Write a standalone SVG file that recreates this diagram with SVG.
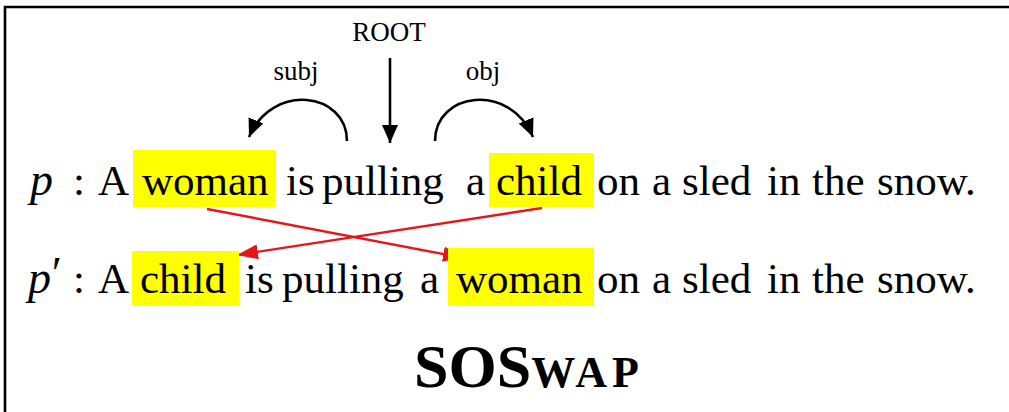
<svg xmlns="http://www.w3.org/2000/svg" width="1009" height="412" viewBox="0 0 1009 412">
<style>
.w{font-family:"Liberation Serif","Times New Roman",serif;font-size:43px;fill:#000}
.m{font-family:"Liberation Serif","Times New Roman",serif;font-style:italic;font-size:46px;fill:#000}
.lab{font-family:"Liberation Serif","Times New Roman",serif;font-size:27px;fill:#000}
.hl{fill:#ffff00}
.dep{fill:none;stroke:#000;stroke-width:2.6}
.swp{fill:none;stroke:#e8141b;stroke-width:2.4}
.ttl{font-family:"Liberation Serif","Times New Roman",serif;font-weight:bold;fill:#000}
</style>
<defs>
<marker id="ak" markerUnits="userSpaceOnUse" markerWidth="22" markerHeight="22" refX="18" refY="8" orient="auto"><path d="M0,0 L18,8 L0,16 Z" fill="#000"/></marker>
<marker id="ar" markerUnits="userSpaceOnUse" markerWidth="24" markerHeight="24" refX="21" refY="7.5" orient="auto"><path d="M0,0 L21,7.5 L0,15 Z" fill="#e8141b"/></marker>
</defs>
<rect width="1009" height="412" fill="#fff"/>
<path d="M5,412 V7 H1009" fill="none" stroke="#000" stroke-width="2.6"/>
<g id="labels">
<text class="lab" x="389" y="41" text-anchor="middle">ROOT</text>
<text class="lab" x="296" y="80" text-anchor="middle" font-size="28">subj</text>
<text class="lab" x="483" y="80" text-anchor="middle" font-size="28">obj</text>
</g>
<g id="connectors">
<path class="dep" d="M347,141 C347,92 272,82 249,137" marker-end="url(#ak)"/>
<path class="dep" d="M390,58 V143" marker-end="url(#ak)"/>
<path class="dep" d="M435,141 C435,92 510,82 533,137" marker-end="url(#ak)"/>
<path class="swp" d="M207,209 L464,258" marker-end="url(#ar)"/>
<path class="swp" d="M542,208 L237,255" marker-end="url(#ar)"/>
</g>
<g id="sentence-p">
<rect class="hl" x="133" y="150" width="143" height="57"/>
<rect class="hl" x="489" y="153" width="105" height="54"/>
<text class="m" x="30" y="195">p</text>
<text class="w" x="73" y="195">:</text>
<text class="w" x="98" y="195">A</text>
<text class="w" x="142" y="195">woman</text>
<text class="w" x="286" y="195">is</text>
<text class="w" x="322" y="195">pulling</text>
<text class="w" x="466" y="195">a</text>
<text class="w" x="496" y="195">child</text>
<text class="w" x="597" y="195">on</text>
<text class="w" x="652" y="195">a</text>
<text class="w" x="682" y="195">sled</text>
<text class="w" x="767" y="195">in</text>
<text class="w" x="812" y="195">the</text>
<text class="w" x="877" y="195">snow.</text>
</g>
<g id="sentence-p-prime">
<rect class="hl" x="132" y="251" width="107" height="55"/>
<rect class="hl" x="448" y="248" width="146" height="58"/>
<text class="m" x="28" y="293">p</text>
<text class="m" x="49" y="289" font-size="50" font-style="normal">′</text>
<text class="w" x="73" y="293">:</text>
<text class="w" x="98" y="293">A</text>
<text class="w" x="140" y="293">child</text>
<text class="w" x="245" y="293">is</text>
<text class="w" x="282" y="293">pulling</text>
<text class="w" x="420" y="293">a</text>
<text class="w" x="456" y="293">woman</text>
<text class="w" x="597" y="293">on</text>
<text class="w" x="652" y="293">a</text>
<text class="w" x="682" y="293">sled</text>
<text class="w" x="767" y="293">in</text>
<text class="w" x="812" y="293">the</text>
<text class="w" x="877" y="293">snow.</text>
</g>
<g id="title">
<text class="ttl" x="414" y="387" font-size="62">SOS<tspan font-size="44" letter-spacing="5">WAP</tspan></text>
</g>
</svg>
